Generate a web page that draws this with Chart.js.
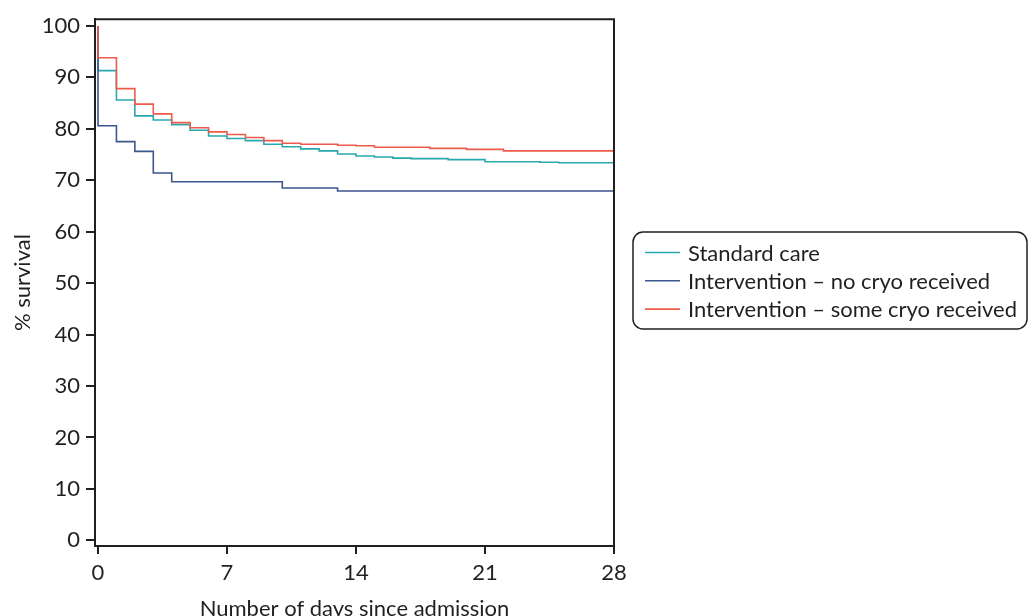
<!DOCTYPE html>
<html><head><meta charset="utf-8">
<script src="https://cdn.jsdelivr.net/npm/chart.js@4"></script>
<style>html,body{margin:0;padding:0;background:#fff}#wrap{width:1029px;height:616px;position:relative}</style>
</head><body><div id="wrap"><canvas id="c" width="1029" height="616"></canvas></div>
<script>
const seriesLabels = ['Standard care', 'Intervention \u2013 no cryo received', 'Intervention \u2013 some cryo received'];
const stdDays = [0, 0, 1, 2, 3, 4, 5, 6, 7, 8, 9, 10, 11, 12, 13, 14, 15, 16, 17, 19, 21, 24, 25, 28];
const stdSurv = [100, 91.3, 85.6, 82.5, 81.7, 80.8, 79.7, 78.6, 78.1, 77.7, 77.0, 76.5, 76.1, 75.7, 75.1, 74.7, 74.5, 74.3, 74.2, 74.0, 73.6, 73.5, 73.4, 73.4];
const noCryoDays = [0, 0, 1, 2, 3, 4, 10, 13, 28];
const noCryoSurv = [100, 80.6, 77.5, 75.6, 71.4, 69.7, 68.5, 67.9, 67.9];
const someCryoDays = [0, 0, 1, 2, 3, 4, 5, 6, 7, 8, 9, 10, 11, 13, 14, 15, 18, 20, 22, 28];
const someCryoSurv = [100, 93.8, 87.8, 84.8, 82.9, 81.2, 80.2, 79.4, 78.9, 78.3, 77.7, 77.2, 77.0, 76.8, 76.7, 76.4, 76.2, 76.0, 75.7, 75.7];
const xTicks = [0, 7, 14, 21, 28];
const yTicks = [0, 10, 20, 30, 40, 50, 60, 70, 80, 90, 100];
const seriesColors = ['#2aa8ae', '#3c5690', '#ee5b4b'];

const INK = '#231f20';
const FONT = 'Lato, "Open Sans", sans-serif';
const FS = 22;

function pts(days, vals) { return days.map((d, i) => ({x: d, y: vals[i]})); }

const frame = {
  id: 'frame',
  afterDatasetsDraw(chart) {
    const {ctx, chartArea: a} = chart;
    ctx.save();
    ctx.strokeStyle = INK; ctx.lineWidth = 2;
    ctx.beginPath();
    ctx.moveTo(a.left, a.top); ctx.lineTo(a.right, a.top); ctx.lineTo(a.right, a.bottom);
    ctx.stroke();
    ctx.restore();
  }
};

const boxLegend = {
  id: 'boxLegend',
  afterDraw(chart) {
    const {ctx} = chart;
    ctx.save();
    ctx.strokeStyle = INK; ctx.lineWidth = 1.5;
    ctx.beginPath();
    ctx.roundRect(633, 232, 394, 97, 10);
    ctx.stroke();
    ctx.font = FS + 'px ' + FONT;
    ctx.textBaseline = 'middle';
    ctx.fillStyle = INK;
    seriesLabels.forEach((lab, i) => {
      const y = 252.5 + i * 28.3;
      ctx.strokeStyle = seriesColors[i]; ctx.lineWidth = 1.6;
      ctx.beginPath(); ctx.moveTo(645, y); ctx.lineTo(680, y); ctx.stroke();
      ctx.fillText(lab, 688, y + 1);
    });
    ctx.restore();
  }
};

const mk = (i, days, vals, order) => ({
  label: seriesLabels[i], data: pts(days, vals), borderColor: seriesColors[i],
  backgroundColor: seriesColors[i], borderWidth: 1.6, pointRadius: 0, stepped: true,
  fill: false, order: order
});

new Chart(document.getElementById('c'), {
  type: 'line',
  data: {
    datasets: [
      mk(0, stdDays, stdSurv, 2),
      mk(1, noCryoDays, noCryoSurv, 1),
      mk(2, someCryoDays, someCryoSurv, 0)
    ]
  },
  options: {
    responsive: false, animation: false, devicePixelRatio: 1,
    layout: {padding: {top: 17, right: 415, left: 0, bottom: 0}},
    plugins: {legend: {display: false}, tooltip: {enabled: false}},
    scales: {
      x: {
        type: 'linear', min: -0.163, max: 28,
        afterBuildTicks: s => { s.ticks = xTicks.map(v => ({value: v})); },
        afterFit: s => { s.height = 70; },
        grid: {drawOnChartArea: false, drawTicks: true, tickLength: 8, color: INK, lineWidth: 2},
        border: {color: INK, width: 2},
        ticks: {color: INK, font: {family: FONT, size: FS}, padding: 6, maxRotation: 0},
        title: {display: true, text: 'Number of days since admission', color: INK,
                font: {family: FONT, size: FS, lineHeight: 0.68}, padding: 0}
      },
      y: {
        min: -1.1, max: 101.3,
        afterBuildTicks: s => { s.ticks = yTicks.map(v => ({value: v})); },
        afterFit: s => { s.width = 95; },
        grid: {drawOnChartArea: false, drawTicks: true, tickLength: 9, color: INK, lineWidth: 2},
        border: {color: INK, width: 2},
        ticks: {color: INK, font: {family: FONT, size: FS}, padding: 6},
        title: {display: true, text: '% survival', color: INK,
                font: {family: FONT, size: FS, lineHeight: 1.2}, padding: {top: 10, bottom: 0}}
      }
    }
  },
  plugins: [frame, boxLegend]
});
</script></body></html>
